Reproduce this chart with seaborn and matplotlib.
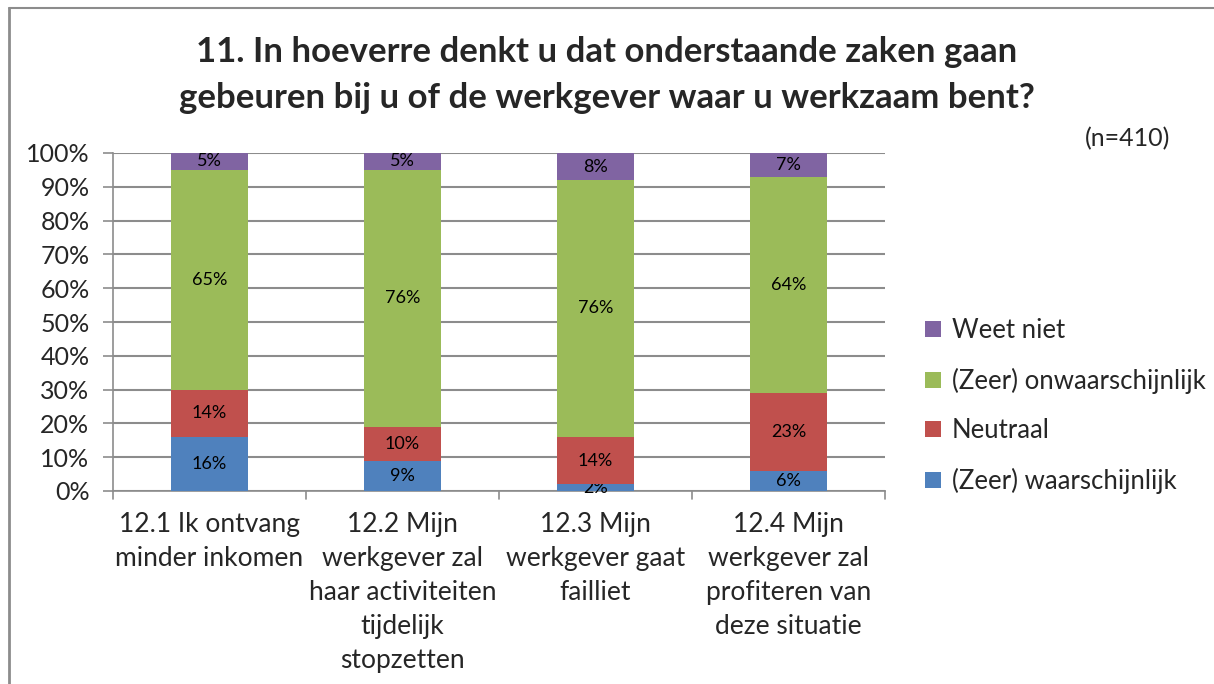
import pandas as pd
import seaborn as sns
import matplotlib.pyplot as plt
from matplotlib.patches import Patch
from matplotlib.lines import Line2D

categories = ['12.1 Ik ontvang\nminder inkomen',
              '12.2 Mijn\nwerkgever zal\nhaar activiteiten\ntijdelijk\nstopzetten',
              '12.3 Mijn\nwerkgever gaat\nfailliet',
              '12.4 Mijn\nwerkgever zal\nprofiteren van\ndeze situatie']
series = ['(Zeer) waarschijnlijk', 'Neutraal', '(Zeer) onwaarschijnlijk', 'Weet niet']
waarschijnlijk = [16, 9, 2, 6]
neutraal = [14, 10, 14, 23]
onwaarschijnlijk = [65, 76, 76, 64]
weet_niet = [5, 5, 8, 7]
colors = ['#4F81BD', '#C0504D', '#9BBB59', '#8064A2']

sns.set_style('white')
plt.rcParams['font.family'] = ['Lato', 'DejaVu Sans']

df = pd.DataFrame({'cat': categories,
                   series[0]: waarschijnlijk,
                   series[1]: neutraal,
                   series[2]: onwaarschijnlijk,
                   series[3]: weet_niet})

fig = plt.figure(figsize=(12.14, 6.84), dpi=100)
ax = fig.add_axes([113 / 1214, 1 - 491 / 684, (885 - 113) / 1214, (491 - 153) / 684])

bottom = [0] * len(categories)
for s, c in zip(series, colors):
    sns.barplot(data=df, x='cat', y=s, bottom=bottom, color=c, width=0.4,
                saturation=1, ax=ax, zorder=3, linewidth=0)
    cont = ax.containers[-1]
    ax.bar_label(cont, labels=[f'{v}%' for v in df[s]], label_type='center',
                 fontsize=13, color='black')
    bottom = [b + v for b, v in zip(bottom, df[s])]

ax.set_ylim(0, 100)
ax.set_xlim(-0.5, 3.5)
ax.set_yticks(range(0, 101, 10))
ax.set_yticklabels([f'{v}%' for v in range(0, 101, 10)], fontsize=18)
ax.yaxis.grid(True, color='#8c8c8c', linewidth=1.5, zorder=0)
ax.set_axisbelow(True)
ax.set_xlabel('')
ax.set_ylabel('')
ax.set_xticks(range(4))
ax.set_xticklabels(categories, fontsize=19, linespacing=1.45)
ax.tick_params(axis='x', length=0, pad=15)
ax.tick_params(axis='y', length=7, width=1.2, color='#8c8c8c', left=True, pad=10)
for sp in ['top', 'right']:
    ax.spines[sp].set_visible(False)
ax.spines['left'].set_color('#8c8c8c')
ax.spines['bottom'].set_color('#8c8c8c')
ax.spines['left'].set_linewidth(1.2)
ax.spines['bottom'].set_linewidth(1.2)

# category separator ticks on x axis
for xb in [-0.5, 0.5, 1.5, 2.5, 3.5]:
    ax.plot([xb, xb], [0, -2.5], color='#8c8c8c', lw=1.2, clip_on=False)

handles = [Patch(facecolor=c, edgecolor='none') for c in colors][::-1]
ax.legend(handles, series[::-1], loc='center left', bbox_to_anchor=(902 / 1214, 1 - 406 / 684),
          bbox_transform=fig.transFigure, frameon=False, fontsize=18.5,
          handlelength=0.6, handleheight=0.6, handletextpad=0.45, labelspacing=0.95)

fig.text(0.5, 1 - 52 / 684, '11. In hoeverre denkt u dat onderstaande zaken gaan',
         ha='center', va='center', fontsize=25, fontweight='bold')
fig.text(0.5, 1 - 98 / 684, 'gebeuren bij u of de werkgever waar u werkzaam bent?',
         ha='center', va='center', fontsize=25, fontweight='bold')
fig.text(1170 / 1214, 1 - 139 / 684, '(n=410)', ha='right', va='center', fontsize=18)

# chart frame
fig.add_artist(Line2D([9 / 1214, 9 / 1214], [0, 1 - 8 / 684], color='#8c8c8c', lw=2,
                      transform=fig.transFigure))
fig.add_artist(Line2D([9 / 1214, 1], [1 - 8 / 684, 1 - 8 / 684], color='#8c8c8c', lw=1.5,
                      transform=fig.transFigure))

fig.savefig('out.png', dpi=100)
